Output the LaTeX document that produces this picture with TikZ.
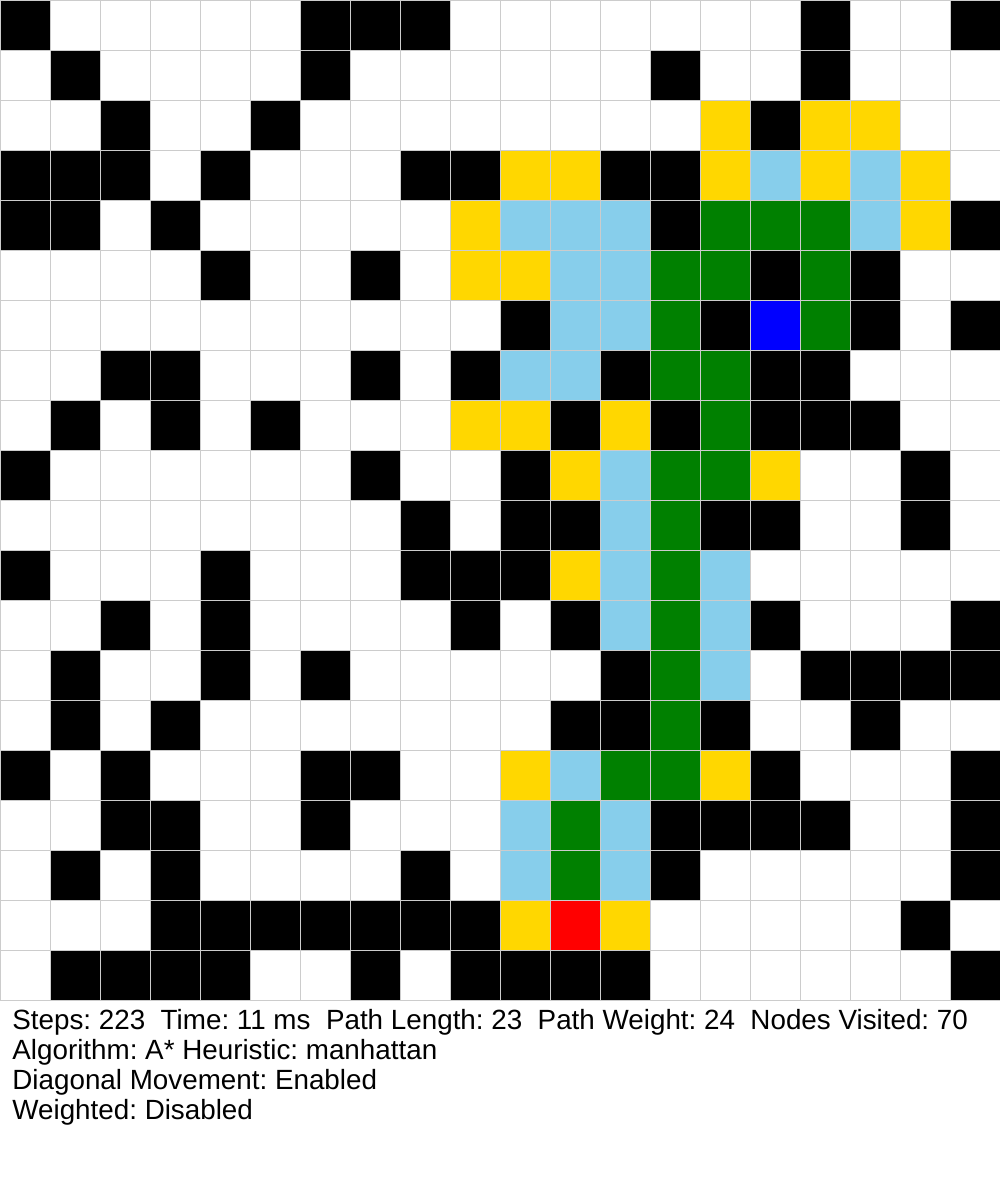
\documentclass[tikz,border=0pt]{standalone}
\usepackage{fontspec}
\setmainfont{Liberation Sans}
\frenchspacing
\definecolor{K}{HTML}{000000}
\definecolor{W}{HTML}{FFFFFF}
\definecolor{Y}{HTML}{FFD700}
\definecolor{L}{HTML}{87CEEB}
\definecolor{G}{HTML}{008000}
\definecolor{U}{HTML}{0000FF}
\definecolor{R}{HTML}{FF0000}
\definecolor{gridline}{HTML}{CCCCCC}
\tikzset{
  cellbox/.style={draw=gridline, line width=0.5pt},
  infotext/.style={anchor=base west, inner sep=0pt, font=\fontsize{13.9pt}{15pt}\selectfont\frenchspacing, text=black}
}
\begin{document}
\begin{tikzpicture}[x=0.5pt,y=-0.5pt]
\fill[white] (0,0) rectangle (1000,1200);
\useasboundingbox (0,0) rectangle (1000,1200);
\foreach \rowlist [count=\r from 0] in {
{K,W,W,W,W,W,K,K,K,W,W,W,W,W,W,W,K,W,W,K},
{W,K,W,W,W,W,K,W,W,W,W,W,W,K,W,W,K,W,W,W},
{W,W,K,W,W,K,W,W,W,W,W,W,W,W,Y,K,Y,Y,W,W},
{K,K,K,W,K,W,W,W,K,K,Y,Y,K,K,Y,L,Y,L,Y,W},
{K,K,W,K,W,W,W,W,W,Y,L,L,L,K,G,G,G,L,Y,K},
{W,W,W,W,K,W,W,K,W,Y,Y,L,L,G,G,K,G,K,W,W},
{W,W,W,W,W,W,W,W,W,W,K,L,L,G,K,U,G,K,W,K},
{W,W,K,K,W,W,W,K,W,K,L,L,K,G,G,K,K,W,W,W},
{W,K,W,K,W,K,W,W,W,Y,Y,K,Y,K,G,K,K,K,W,W},
{K,W,W,W,W,W,W,K,W,W,K,Y,L,G,G,Y,W,W,K,W},
{W,W,W,W,W,W,W,W,K,W,K,K,L,G,K,K,W,W,K,W},
{K,W,W,W,K,W,W,W,K,K,K,Y,L,G,L,W,W,W,W,W},
{W,W,K,W,K,W,W,W,W,K,W,K,L,G,L,K,W,W,W,K},
{W,K,W,W,K,W,K,W,W,W,W,W,K,G,L,W,K,K,K,K},
{W,K,W,K,W,W,W,W,W,W,W,K,K,G,K,W,W,K,W,W},
{K,W,K,W,W,W,K,K,W,W,Y,L,G,G,Y,K,W,W,W,K},
{W,W,K,K,W,W,K,W,W,W,L,G,L,K,K,K,K,W,W,K},
{W,K,W,K,W,W,W,W,K,W,L,G,L,K,W,W,W,W,W,K},
{W,W,W,K,K,K,K,K,K,K,Y,R,Y,W,W,W,W,W,K,W},
{W,K,K,K,K,W,W,K,W,K,K,K,K,W,W,W,W,W,W,K}} {
  \foreach \c [count=\cc from 0] in \rowlist {
    \path[cellbox, fill=\c] (\cc*50,\r*50) rectangle ++(50,50);
  }
}
\node[infotext] (t1) at (12,1029) {Steps: 223\ \ Time: 11 ms\ \ Path Length: 23\ \ Path Weight: 24\ \ Nodes Visited: 70};
\node[infotext] (t2) at (12,1059) {Algorithm: A* Heuristic: manhattan};
\node[infotext] (t3) at (12,1089) {Diagonal Movement: Enabled};
\node[infotext] (t4) at (12,1119) {Weighted: Disabled};
\end{tikzpicture}
\end{document}
